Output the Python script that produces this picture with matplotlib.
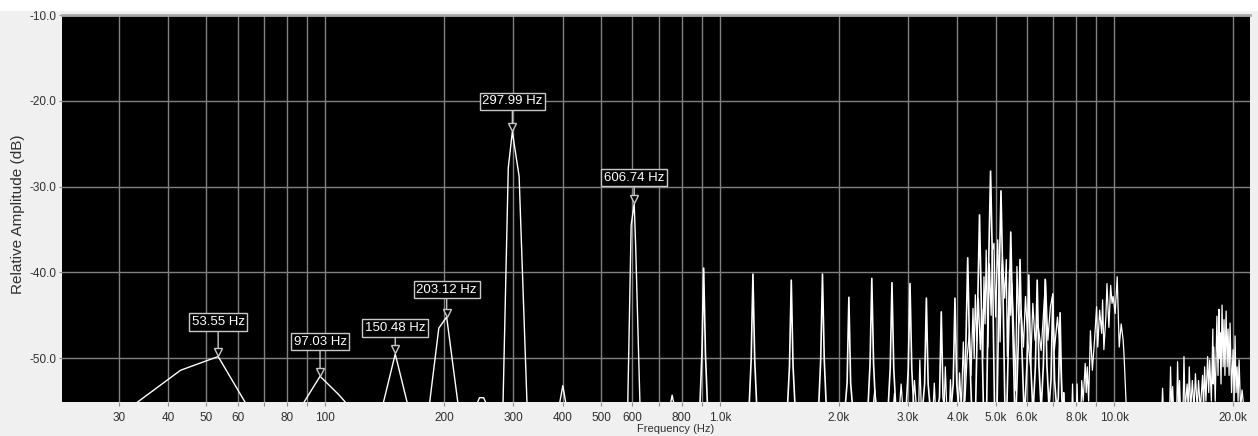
import numpy as np
import matplotlib.pyplot as plt
import matplotlib.transforms as mtransforms
from matplotlib.patches import Rectangle

# spectrum below 800 Hz, read vertex by vertex (Hz, dB)
low_hz = [30, 31.5, 43.0, 53.55, 64.3, 86, 97.03, 108, 117, 139, 150.48, 163,
          183, 194, 203.12, 218, 239, 246, 252, 260, 282, 291, 297.99, 310, 325,
          390, 400, 410, 584, 596, 606.74, 612, 628, 745, 757, 770]
low_db = [-56, -56, -51.4, -49.8, -56, -56, -52.1, -54.2, -56, -56, -49.5, -56,
          -56, -46.5, -45.2, -56, -56, -54.6, -54.6, -56, -56, -27.8, -23.6, -28.8, -56,
          -56, -53.2, -56, -56, -34.5, -32.0, -37.0, -56, -56, -54.3, -56]

# harmonic spikes from 900 Hz up
harm_hz = [910, 1213, 1517, 1820, 2123, 2427, 2730, 3033, 3337, 3640, 3943,
           4247, 4550, 4853, 5157, 5460, 5763, 6067, 6370, 6673, 6977, 7280]
harm_db = [-39.5, -40.2, -40.9, -40.2, -42.9, -40.7, -41.2, -41.3, -43.0, -44.6, -43.0,
           -38.3, -33.3, -28.2, -30.5, -35.3, -38.5, -40.3, -40.9, -40.8, -42.5, -44.7]

# noise between and above the harmonics
noise_hz = [2440, 2470, 2500, 2750, 2770, 2790, 2850, 2880, 2910, 3080, 3114, 3150,
            3190, 3212, 3240, 3470, 3495, 3520, 3700, 3727, 3760, 3820, 3840, 3870,
            4020, 4050, 4090,
            4140, 4180, 4230, 4290, 4330, 4380, 4410, 4440, 4480, 4520,
            4570, 4610, 4640, 4670, 4700, 4730, 4780, 4820, 4870, 4900,
            4950, 5000, 5060, 5100, 5130, 5170, 5200, 5270, 5320, 5350,
            5420, 5460, 5500, 5560, 5620, 5660, 5720, 5800, 5880, 5950,
            6030, 6130, 6210, 6290, 6400, 6520, 6600, 6690, 6780, 6880,
            6960, 7040, 7170, 7250, 7330, 7380,
            7420, 7440, 7470, 7800, 7830, 7860, 8010, 8040, 8070, 8230, 8260, 8330,
            8430, 8480, 8530, 8600, 8690, 8790, 8900, 9010, 9070, 9170, 9280, 9330,
            9400, 9510, 9570, 9680, 9780, 9860, 9920, 10040, 10160, 10280, 10400, 10520,
            10580, 10720,
            13180, 13240, 13300, 13800, 13870, 13950, 14040, 14120, 14380, 14450,
            14540, 14620, 14700, 14920, 15000, 15100, 15280, 15380, 15470, 15600,
            15750, 15900, 16040, 16200, 16330, 16500, 16720, 16820, 16920, 17050,
            17220, 17330, 17430, 17600, 17750, 17800, 17850, 18000, 18180, 18300,
            18400, 18450, 18500, 18620, 18730, 18850, 18950, 19050, 19180, 19300,
            19400, 19520, 19630, 19800, 19980, 20100, 20210, 20330, 20450, 20570,
            20690, 20870, 21050, 21300]
noise_db = [-56, -53.7, -56, -56, -54.1, -56, -56, -53.0, -56, -56, -52.6, -56,
            -56, -50.2, -56, -56, -52.9, -56, -56, -51.0, -56, -56, -52.5, -56,
            -56, -51.7, -56,
            -48.1, -55, -50, -47.0, -52, -44.2, -50, -42.6, -48.0, -43,
            -49, -44.3, -50, -40.5, -46, -37.4, -48.7, -39, -45, -37.5,
            -36.6, -45.2, -36.2, -42, -48.1, -40, -38.2, -43.0, -38.5, -49.8,
            -39.7, -45, -41.3, -47.1, -53.8, -39.3, -46, -44.4, -48.7, -42.8,
            -47.9, -51.0, -43.6, -47.9, -46.0, -49.1, -45.2, -40.9, -47.9, -44.0,
            -42.8, -49.1, -45.2, -47.9, -51.8, -56,
            -56, -54, -56, -56, -53, -56, -56, -53, -56, -56, -52.6, -55,
            -50.6, -54, -51, -55, -46.8, -51.4, -47.9, -44.0, -48.7, -44.4, -47.1, -43.2,
            -49, -45.2, -41.3, -46.4, -41.5, -43.6, -42.8, -44.8, -40.5, -48.7, -46, -47.9,
            -49.9, -56,
            -56, -53.5, -56, -56, -51, -56, -53.3, -56, -56, -50.4,
            -56, -52.6, -56, -56, -49.8, -56, -53, -56, -51, -56,
            -52.6, -56, -51.8, -56, -52.6, -56, -52, -56, -51, -55,
            -49.8, -54, -50.2, -55, -46.6, -53, -48.7, -55, -45.1, -52,
            -44.3, -50, -47, -53, -43.8, -51, -45.5, -52, -44.5, -51,
            -46.6, -52, -45.9, -54, -49, -55, -47.4, -54, -51, -55,
            -50.2, -56, -53.7, -56]

# peak markers
label_hz = [53.55, 97.03, 150.48, 203.12, 297.99, 606.74]
label_text = ["53.55 Hz", "97.03 Hz", "150.48 Hz", "203.12 Hz", "297.99 Hz", "606.74 Hz"]
label_offset_px = [34.5, 34.5, 26, 27.5, 30.5, 26]

tick_hz = [30, 40, 50, 60, 70, 80, 90, 100, 200, 300, 400, 500, 600, 700, 800, 900,
           1000, 2000, 3000, 4000, 5000, 6000, 7000, 8000, 9000, 10000, 20000]
tick_labels = ["30", "40", "50", "60", "", "80", "", "100", "200", "300", "400", "500",
               "600", "", "800", "", "1.0k", "2.0k", "3.0k", "4.0k", "5.0k", "6.0k", "",
               "8.0k", "", "10.0k", "20.0k"]
amp_ticks = [-10, -20, -30, -40, -50]

W, H = 1258, 436
fig = plt.figure(figsize=(W / 100, H / 100), dpi=100, facecolor="#f0f0f0")
fig.patches.append(Rectangle((0, 1 - 10 / H), 1, 10 / H, transform=fig.transFigure,
                             color="white", zorder=0))
ax = fig.add_axes([62 / W, 1 - 402 / H, (1250 - 62) / W, (402 - 15) / H])
ax.set_facecolor("black")
ax.set_xscale("log")
ax.set_xlim(21.53, 22050)
ax.set_ylim(-55.1, -10)

ax.set_xticks(tick_hz)
ax.set_xticklabels(tick_labels)
ax.xaxis.set_minor_locator(plt.NullLocator())
ax.set_yticks(amp_ticks)
ax.set_yticklabels([f"{v:.1f}" for v in amp_ticks])
ax.grid(True, color="#808080", lw=1.0)
ax.set_axisbelow(True)
for side in ["left", "right", "bottom"]:
    ax.spines[side].set_visible(False)
ax.spines["top"].set_color("#a8a8a8")
ax.spines["top"].set_linewidth(2)

tick_font = ["Liberation Sans", "DejaVu Sans"]
ax.tick_params(axis="x", length=3, pad=4, color="#909090", labelsize=8.5,
               labelcolor="#303030")
ax.tick_params(axis="y", length=2, pad=2, color="#909090", labelsize=8.5,
               labelcolor="#303030")
for lab in ax.get_xticklabels() + ax.get_yticklabels():
    lab.set_family(tick_font)

# spectrum trace
ax.plot(low_hz, low_db, color="white", lw=1.0)

spread = np.array([-0.010, -0.0045, 0.0, 0.0045, 0.010])
hx, hy = [], []
for f, db in zip(harm_hz, harm_db):
    hx += list(f * 10 ** spread) + [np.nan]
    hy += [-56, db - 10, db, db - 10, -56, np.nan]
ax.plot(hx, hy, color="white", lw=1.2)
ax.plot(noise_hz, noise_db, color="white", lw=0.9)

# peak labels with little down-pointing markers
label_font = ["Liberation Sans Narrow", "Liberation Sans", "DejaVu Sans"]
marker_trans = mtransforms.offset_copy(ax.transData, fig=fig, x=0, y=4.5, units="dots")
log_low = np.log10(low_hz)
for hz, text, off in zip(label_hz, label_text, label_offset_px):
    peak = np.interp(np.log10(hz), log_low, low_db)
    ax.annotate(text, xy=(hz, peak), xytext=(0, off * 0.72), textcoords="offset points",
                ha="center", va="center", color="white", fontsize=9.5, family=label_font,
                bbox=dict(boxstyle="square,pad=0.2", fc="black", ec="#c8c8c8", lw=1),
                arrowprops=dict(arrowstyle="-", color="#c8c8c8", lw=1,
                                shrinkA=0, shrinkB=6))
    ax.plot(hz, peak, marker="v", ms=6, mfc="black", mec="#c8c8c8", mew=1,
            transform=marker_trans, clip_on=False)

fig.text(18 / W, 1 - 214 / H, "Relative Amplitude (dB)", rotation=90, ha="center",
         va="center", fontsize=11, color="#303030", family=tick_font)
fig.text(676 / W, 1 - 429 / H, "Frequency (Hz)", ha="center", va="center",
         fontsize=8, color="#303030", family=tick_font)

fig.savefig("out.png", dpi=100, facecolor=fig.get_facecolor())
